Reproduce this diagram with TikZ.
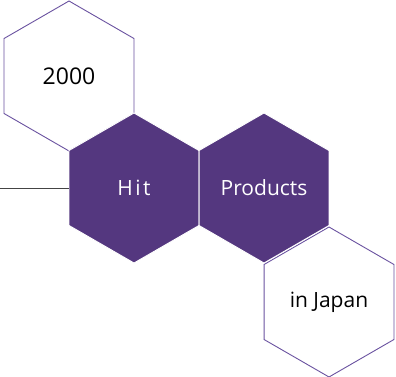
\documentclass[tikz,border=0pt]{standalone}
\usepackage{fontspec}
\setmainfont{Open Sans}
\usetikzlibrary{shapes.geometric}
\definecolor{hexfill}{HTML}{54377F}
\definecolor{hexline}{HTML}{6A52A0}
\definecolor{linkgray}{HTML}{444444}
\tikzset{
  hexbase/.style={regular polygon, regular polygon sides=6, shape border rotate=30,
    minimum size=150pt, inner sep=0pt, outer sep=0pt},
  hexopen/.style={hexbase, draw=hexline, line width=0.9pt, fill=white, text=black},
  hexfilled/.style={hexbase, draw=white, line width=0.9pt, fill=hexfill, text=white},
  lbl/.style={font=\fontsize{21}{24}\selectfont},
  biglbl/.style={font=\fontsize{23}{26}\selectfont},
  link/.style={draw=linkgray, line width=0.8pt}
}
\begin{document}
\begin{tikzpicture}[x=1pt, y=-1pt]
\useasboundingbox (0,0) rectangle (396,377);
\node[hexopen, biglbl] (y2000) at (69,76) {2000};
\node[hexopen, lbl] (japan) at (329,302) {in Japan};
\node[hexfilled, lbl] (hit) at (134,188) {H\hspace{2.5pt}i\hspace{2.5pt}t};
\node[hexfilled, lbl] (prod) at (264,188) {Products};
\coordinate (start) at (0,188);
\draw[link] (start) -- (hit.west);
\end{tikzpicture}
\end{document}
